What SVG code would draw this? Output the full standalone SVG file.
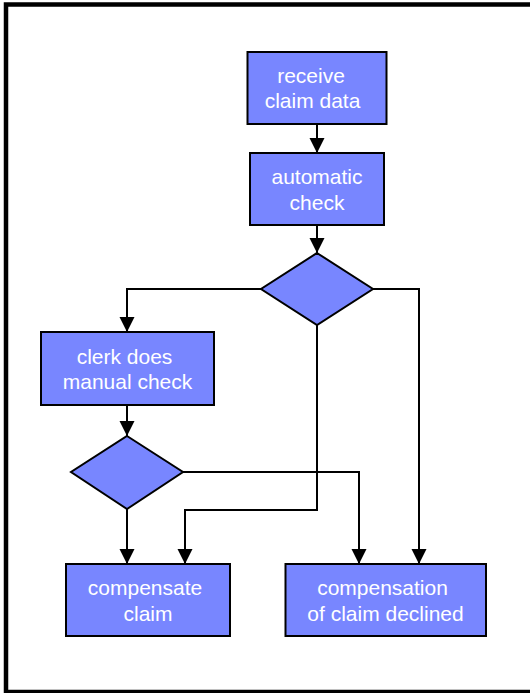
<svg xmlns="http://www.w3.org/2000/svg" width="530" height="693" viewBox="0 0 530 693">
  <style>
    .box { fill: #7886FF; stroke: #000; stroke-width: 2; }
    .lbl { fill: #fff; font-family: "Liberation Sans", Arial, sans-serif; font-size: 21px; text-anchor: middle; }
    .edge { fill: none; stroke: #000; stroke-width: 2; marker-end: url(#arrow); }
  </style>
  <defs>
    <marker id="arrow" markerUnits="userSpaceOnUse" markerWidth="16" markerHeight="16" refX="15" refY="7.5" orient="auto">
      <path d="M0,0 L15,7.5 L0,15 Z" fill="#000"/>
    </marker>
  </defs>

  <rect x="0" y="0" width="530" height="693" fill="#fff"/>
  <!-- outer frame; its right side runs past the canvas edge -->
  <rect x="6" y="4.5" width="540" height="687.5" fill="none" stroke="#000" stroke-width="4.5"/>

  <g id="connectors">
    <line class="edge" x1="317" y1="124" x2="317" y2="153"/>
    <line class="edge" x1="317" y1="225" x2="317" y2="253"/>
    <polyline class="edge" points="261,289 127,289 127,332"/>
    <polyline class="edge" points="373,289 419,289 419,564"/>
    <polyline class="edge" points="317,325 317,510 185,510 185,564"/>
    <line class="edge" x1="127" y1="405" x2="127" y2="436"/>
    <line class="edge" x1="127" y1="509" x2="127" y2="564"/>
    <polyline class="edge" points="183,472 359,472 359,564"/>
  </g>

  <g id="receive-claim-data">
    <rect class="box" x="247.5" y="52" width="139" height="72"/>
    <text class="lbl" x="311" y="83">receive</text>
    <text class="lbl" x="312.5" y="108">claim data</text>
  </g>

  <g id="automatic-check">
    <rect class="box" x="250" y="153" width="134" height="72"/>
    <text class="lbl" x="317" y="183.5">automatic</text>
    <text class="lbl" x="317" y="209.5">check</text>
  </g>

  <g id="decision-automatic">
    <polygon class="box" points="317,253 373,289 317,325 261,289"/>
  </g>

  <g id="manual-check">
    <rect class="box" x="41" y="332" width="173" height="73"/>
    <text class="lbl" x="124.5" y="363.5">clerk does</text>
    <text class="lbl" x="127.5" y="389">manual check</text>
  </g>

  <g id="decision-manual">
    <polygon class="box" points="127,436 183,472 127,509 71,472"/>
  </g>

  <g id="compensate-claim">
    <rect class="box" x="66" y="564" width="164" height="72"/>
    <text class="lbl" x="145" y="595">compensate</text>
    <text class="lbl" x="148" y="620.5">claim</text>
  </g>

  <g id="claim-declined">
    <rect class="box" x="285.5" y="564" width="200.5" height="72"/>
    <text class="lbl" x="382.5" y="595">compensation</text>
    <text class="lbl" x="385.5" y="620.5">of claim declined</text>
  </g>
</svg>
